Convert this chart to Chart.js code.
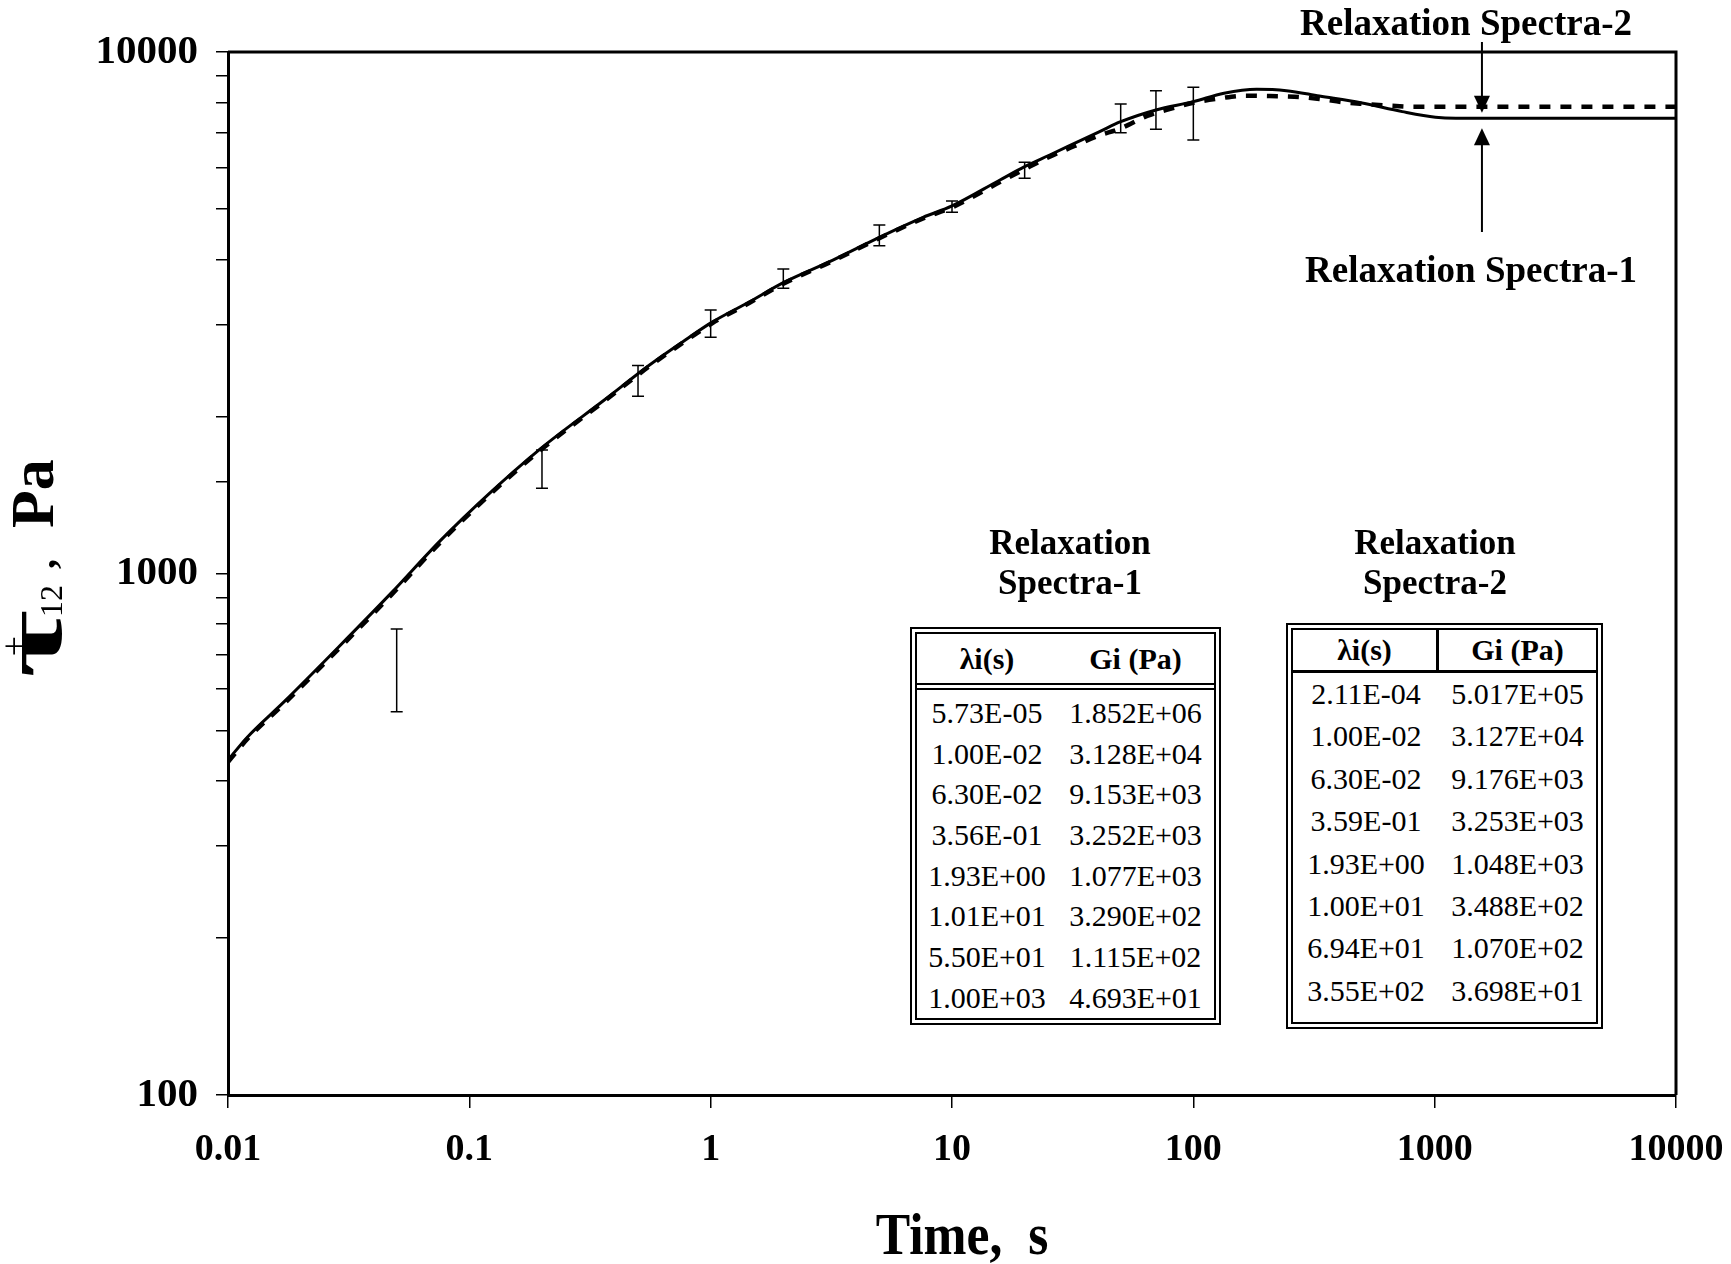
<!DOCTYPE html>
<html>
<head>
<meta charset="utf-8">
<script src="https://cdn.jsdelivr.net/npm/chart.js@4.4.0/dist/chart.umd.min.js"></script>
<style>
body{margin:0;background:#fff;}
#wrap{position:relative;width:1731px;height:1264px;background:#fff;}
#chart{position:absolute;left:0;top:0;}
.serif{font-family:'Liberation Serif','Times New Roman',serif;color:#000;}
.tbl{position:absolute;box-sizing:border-box;border:7px double #000;background:#fff;}
.head{display:flex;font-weight:bold;font-size:30px;}
.row{display:flex;font-size:30px;}
.head div,.row div{text-align:center;}
.ttl{position:absolute;width:300px;text-align:center;font-weight:bold;font-size:35px;line-height:40px;}
</style>
</head>
<body>
<div id="wrap">
  <canvas id="chart" width="1731" height="1264"></canvas>
</div>
<script>
// solid curve - relaxation spectra 1
const timeS1 = [0.01, 0.01205, 0.0171, 0.0284, 0.0473, 0.0762, 0.119, 0.198, 0.3625, 0.558, 0.767, 1.01, 1.45, 2, 3.21, 5, 7.59, 10, 15.8, 20, 25.4, 40.9, 50, 70, 100, 134, 183, 243, 333, 494, 734, 1007, 1225, 10000];
const stressS1 = [439, 486, 568, 719, 916, 1159, 1414, 1738, 2151, 2510, 2783, 3031, 3320, 3612, 3990, 4413, 4819, 5067, 5683, 6026, 6346, 7035, 7350, 7742, 8031, 8336, 8482, 8431, 8232, 7993, 7685, 7497, 7464, 7464];
// dashed curve - relaxation spectra 2
const timeS2 = [0.01, 0.01205, 0.0171, 0.0284, 0.0473, 0.0762, 0.119, 0.198, 0.3625, 0.558, 0.767, 1.01, 1.45, 2, 3.21, 5, 7.59, 10, 15.8, 20, 25.4, 32.2, 40.1, 50, 64.4, 81.7, 100, 129, 163, 207, 262, 333, 422, 514, 653, 827, 10000];
const stressS2 = [435, 482, 563, 713, 908, 1150, 1404, 1727, 2140, 2498, 2770, 3015, 3305, 3595, 3975, 4395, 4795, 5035, 5630, 5960, 6300, 6602, 6902, 7138, 7540, 7798, 7993, 8149, 8245, 8230, 8209, 8126, 8007, 7948, 7888, 7855, 7855];
// experimental error bars
const expTime = [0.05, 0.2, 0.5, 1, 2, 5, 10, 20, 50, 70, 100];
const expLow = [543, 1457, 2188, 2838, 3523, 4253, 4927, 5725, 7004, 7108, 6781];
const expHigh = [783, 1725, 2506, 3202, 3837, 4659, 5180, 6146, 7948, 8429, 8557];

const xTicks = [0.01, 0.1, 1, 10, 100, 1000, 10000];
const xTickLabels = ['0.01', '0.1', '1', '10', '100', '1000', '10000'];
const yMajor = [100, 1000, 10000];

const lambda1 = ['5.73E-05', '1.00E-02', '6.30E-02', '3.56E-01', '1.93E+00', '1.01E+01', '5.50E+01', '1.00E+03'];
const g1 = ['1.852E+06', '3.128E+04', '9.153E+03', '3.252E+03', '1.077E+03', '3.290E+02', '1.115E+02', '4.693E+01'];
const lambda2 = ['2.11E-04', '1.00E-02', '6.30E-02', '3.59E-01', '1.93E+00', '1.00E+01', '6.94E+01', '3.55E+02'];
const g2 = ['5.017E+05', '3.127E+04', '9.176E+03', '3.253E+03', '1.048E+03', '3.488E+02', '1.070E+02', '3.698E+01'];

const arrowAt = 1570;
const SERIF = "'Liberation Serif', 'Times New Roman', serif";

// tables (html text)
const wrap = document.getElementById('wrap');
function makeTable(opt, lam, g) {
    const t = document.createElement('div');
    t.className = 'tbl serif';
    t.style.left = opt.left + 'px';
    t.style.top = opt.top + 'px';
    t.style.width = opt.width + 'px';
    t.style.height = opt.height + 'px';
    const h = document.createElement('div');
    h.className = 'head';
    h.style.height = opt.headH + 'px';
    h.style.lineHeight = opt.headH + 'px';
    h.style.borderBottom = opt.headBorder;
    h.innerHTML = `<div style="width:${opt.c1}px">λi(s)</div>` +
        (opt.divider ? `<div style="width:3px;background:#000"></div>` : '') +
        `<div style="width:${opt.c2}px">Gi (Pa)</div>`;
    t.appendChild(h);
    const body = document.createElement('div');
    body.style.paddingTop = opt.padTop + 'px';
    lam.forEach((l, i) => {
        const r = document.createElement('div');
        r.className = 'row';
        r.style.height = opt.rowH + 'px';
        r.style.lineHeight = opt.rowH + 'px';
        r.innerHTML = `<div style="width:${opt.c1 + (opt.divider ? 3 : 0)}px">${l}</div><div style="width:${opt.c2}px">${g[i]}</div>`;
        body.appendChild(r);
    });
    t.appendChild(body);
    wrap.appendChild(t);

    const ttl = document.createElement('div');
    ttl.className = 'ttl serif';
    ttl.style.left = (opt.titleX - 150) + 'px';
    ttl.style.top = opt.titleY + 'px';
    ttl.innerHTML = 'Relaxation<br>' + opt.name;
    wrap.appendChild(ttl);
}
makeTable({left: 910, top: 627, width: 311, height: 398, headH: 49, headBorder: '7px double #000',
    c1: 140, c2: 157, divider: false, padTop: 3, rowH: 40.7, titleX: 1070, titleY: 523, name: 'Spectra-1'}, lambda1, g1);
makeTable({left: 1286, top: 623, width: 317, height: 406, headH: 40, headBorder: '3px solid #000',
    c1: 143, c2: 157, divider: true, padTop: 0, rowH: 42.4, titleX: 1435, titleY: 523, name: 'Spectra-2'}, lambda2, g2);

function arrow(ctx, x, y0, y1) {
    const dir = y1 > y0 ? 1 : -1;
    ctx.beginPath();
    ctx.moveTo(x, y0);
    ctx.lineTo(x, y1 - dir * 14);
    ctx.stroke();
    ctx.beginPath();
    ctx.moveTo(x, y1);
    ctx.lineTo(x - 8, y1 - dir * 17);
    ctx.lineTo(x + 8, y1 - dir * 17);
    ctx.closePath();
    ctx.fill();
}

const extras = {
    id: 'extras',
    afterDatasetsDraw(chart) {
        const {ctx, chartArea: a, scales: {x, y}} = chart;
        ctx.save();
        ctx.strokeStyle = '#000';
        ctx.fillStyle = '#000';
        // error bars
        ctx.lineWidth = 1.5;
        expTime.forEach((t, i) => {
            const px = x.getPixelForValue(t);
            const y1 = y.getPixelForValue(expLow[i]);
            const y2 = y.getPixelForValue(expHigh[i]);
            ctx.beginPath();
            ctx.moveTo(px, y1); ctx.lineTo(px, y2);
            ctx.moveTo(px - 6, y1); ctx.lineTo(px + 6, y1);
            ctx.moveTo(px - 6, y2); ctx.lineTo(px + 6, y2);
            ctx.stroke();
        });
        // top and right frame
        ctx.lineWidth = 3;
        ctx.beginPath();
        ctx.moveTo(a.left, a.top);
        ctx.lineTo(a.right, a.top);
        ctx.lineTo(a.right, a.bottom);
        ctx.stroke();
        // arrows and labels
        const ax = x.getPixelForValue(arrowAt);
        ctx.lineWidth = 2;
        arrow(ctx, ax, 42, y.getPixelForValue(stressS2[stressS2.length - 1]) + 6);
        arrow(ctx, ax, 232, y.getPixelForValue(stressS1[stressS1.length - 1]) + 10);
        ctx.font = 'bold 37px ' + SERIF;
        ctx.textAlign = 'center';
        ctx.textBaseline = 'alphabetic';
        ctx.fillText('Relaxation Spectra-2', 1466, 35);
        ctx.fillText('Relaxation Spectra-1', 1471, 282);

        // x title
        ctx.save();
        ctx.translate(962, 1254);
        ctx.scale(0.86, 1);
        ctx.font = 'bold 60px ' + SERIF;
        ctx.fillText('Time,  s', 0, 0);
        ctx.restore();

        // y title  (rotated)
        ctx.save();
        ctx.translate(53, 0);
        ctx.rotate(-Math.PI / 2);
        ctx.textAlign = 'left';
        ctx.font = 'bold 84px ' + SERIF;
        const tw = ctx.measureText('τ').width;
        ctx.save();
        ctx.translate(-678, 8);
        ctx.scale(68 / tw, 1);
        ctx.fillText('τ', 0, 0);
        ctx.restore();
        ctx.font = '36px ' + SERIF;
        ctx.textAlign = 'center';
        ctx.textBaseline = 'middle';
        ctx.fillText('+', -646, -36);
        ctx.textAlign = 'left';
        ctx.textBaseline = 'alphabetic';
        ctx.font = '32px ' + SERIF;
        ctx.fillText('12', -617, 9);
        ctx.font = 'bold 40px ' + SERIF;
        ctx.fillText(',', -569, 2);
        ctx.font = 'bold 62px ' + SERIF;
        ctx.fillText('Pa', -528, 0);
        ctx.restore();
        ctx.restore();
    }
};

new Chart(document.getElementById('chart'), {
    type: 'scatter',
    data: {
        datasets: [
            {
                label: 'Relaxation Spectra-2',
                data: timeS2.map((t, i) => ({x: t, y: stressS2[i]})),
                showLine: true,
                borderColor: '#000',
                borderWidth: 4.5,
                borderDash: [11, 10],
                pointRadius: 0,
                cubicInterpolationMode: 'monotone',
                fill: false
            },
            {
                label: 'Relaxation Spectra-1',
                data: timeS1.map((t, i) => ({x: t, y: stressS1[i]})),
                showLine: true,
                borderColor: '#000',
                borderWidth: 3,
                pointRadius: 0,
                cubicInterpolationMode: 'monotone',
                fill: false
            }
        ]
    },
    options: {
        responsive: false,
        animation: false,
        devicePixelRatio: 1,
        layout: {padding: {top: 52, right: 55, left: 0, bottom: 0}},
        plugins: {legend: {display: false}, tooltip: {enabled: false}},
        scales: {
            x: {
                type: 'logarithmic',
                min: 0.01,
                max: 10000,
                afterBuildTicks: s => { s.ticks = xTicks.map(v => ({value: v})); },
                afterFit: s => { s.height = 169; s.paddingLeft = 0; s.paddingRight = 0; },
                grid: {drawOnChartArea: false, drawTicks: true, tickLength: 13, color: '#000', lineWidth: 1.5},
                border: {display: true, color: '#000', width: 3},
                ticks: {
                    autoSkip: false, maxRotation: 0, padding: 19, color: '#000',
                    font: {family: SERIF, size: 38, weight: 'bold'},
                    callback: v => xTickLabels[xTicks.indexOf(v)] ?? ''
                }
            },
            y: {
                type: 'logarithmic',
                min: 100,
                max: 10000,
                afterFit: s => { s.width = 228; s.paddingTop = 0; s.paddingBottom = 0; },
                grid: {drawOnChartArea: false, drawTicks: true, tickLength: 12, color: '#000', lineWidth: 1.5},
                border: {display: true, color: '#000', width: 3},
                ticks: {
                    autoSkip: false, padding: 18, color: '#000',
                    font: {family: SERIF, size: 41, weight: 'bold'},
                    callback: v => yMajor.includes(Math.round(v)) ? String(Math.round(v)) : ''
                }
            }
        }
    },
    plugins: [extras]
});
</script>
</body>
</html>
